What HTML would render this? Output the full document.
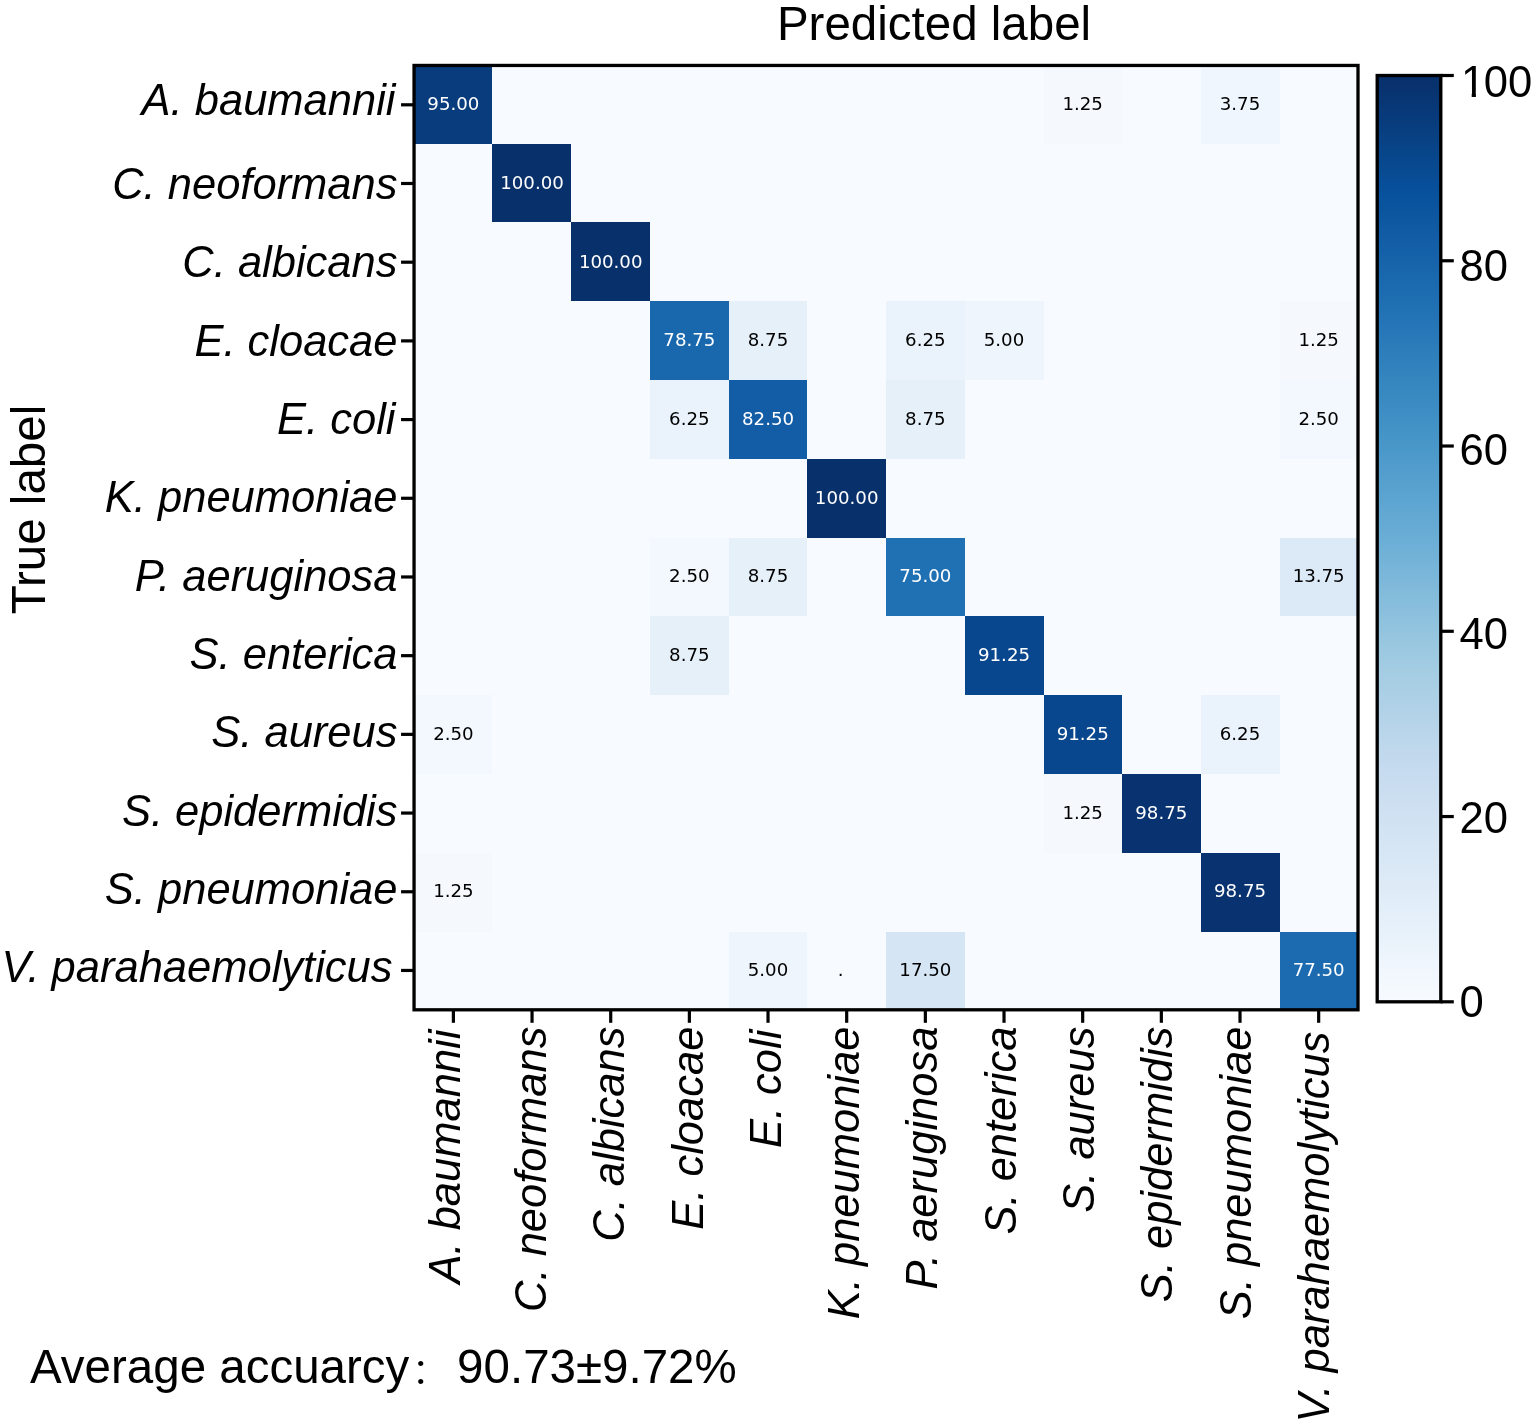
<!DOCTYPE html>
<html lang="en"><head><meta charset="utf-8"><title>Confusion matrix</title>
<style>
html,body{margin:0;padding:0;background:#fff;}
body{width:1535px;height:1425px;overflow:hidden;}
svg{display:block;}
.ar{font-family:"Liberation Sans",sans-serif;fill:#000;}
.it{font-style:italic;}
.dv{font-family:"DejaVu Sans","Liberation Sans",sans-serif;font-size:18.20px;text-anchor:middle;}
</style></head><body>
<svg width="1535" height="1425" viewBox="0 0 1535 1425">
<rect x="0" y="0" width="1535" height="1425" fill="#ffffff"/>
<defs><linearGradient id="cb" x1="0" y1="1" x2="0" y2="0">
<stop offset="0.0000" stop-color="#f7fbff"/>
<stop offset="0.0156" stop-color="#f4f9fe"/>
<stop offset="0.0312" stop-color="#f1f7fd"/>
<stop offset="0.0469" stop-color="#eef5fc"/>
<stop offset="0.0625" stop-color="#eaf3fb"/>
<stop offset="0.0781" stop-color="#e7f1fa"/>
<stop offset="0.0938" stop-color="#e4eff9"/>
<stop offset="0.1094" stop-color="#e1edf8"/>
<stop offset="0.1250" stop-color="#deebf7"/>
<stop offset="0.1406" stop-color="#dbe9f6"/>
<stop offset="0.1562" stop-color="#d8e7f5"/>
<stop offset="0.1719" stop-color="#d5e5f4"/>
<stop offset="0.1875" stop-color="#d2e3f3"/>
<stop offset="0.2031" stop-color="#cfe1f2"/>
<stop offset="0.2188" stop-color="#ccdff1"/>
<stop offset="0.2344" stop-color="#c9ddf0"/>
<stop offset="0.2500" stop-color="#c6dbef"/>
<stop offset="0.2656" stop-color="#c1d9ed"/>
<stop offset="0.2812" stop-color="#bcd7eb"/>
<stop offset="0.2969" stop-color="#b7d4ea"/>
<stop offset="0.3125" stop-color="#b2d2e8"/>
<stop offset="0.3281" stop-color="#add0e6"/>
<stop offset="0.3438" stop-color="#a8cee4"/>
<stop offset="0.3594" stop-color="#a3cce3"/>
<stop offset="0.3750" stop-color="#9dcae1"/>
<stop offset="0.3906" stop-color="#97c6df"/>
<stop offset="0.4062" stop-color="#91c3de"/>
<stop offset="0.4219" stop-color="#8abfdd"/>
<stop offset="0.4375" stop-color="#84bcdb"/>
<stop offset="0.4531" stop-color="#7db8da"/>
<stop offset="0.4688" stop-color="#77b5d9"/>
<stop offset="0.4844" stop-color="#71b1d7"/>
<stop offset="0.5000" stop-color="#6aaed6"/>
<stop offset="0.5156" stop-color="#65aad4"/>
<stop offset="0.5312" stop-color="#60a7d2"/>
<stop offset="0.5469" stop-color="#5ba3d0"/>
<stop offset="0.5625" stop-color="#56a0ce"/>
<stop offset="0.5781" stop-color="#519ccc"/>
<stop offset="0.5938" stop-color="#4b98ca"/>
<stop offset="0.6094" stop-color="#4695c8"/>
<stop offset="0.6250" stop-color="#4191c6"/>
<stop offset="0.6406" stop-color="#3d8dc4"/>
<stop offset="0.6562" stop-color="#3989c1"/>
<stop offset="0.6719" stop-color="#3585bf"/>
<stop offset="0.6875" stop-color="#3181bd"/>
<stop offset="0.7031" stop-color="#2d7dbb"/>
<stop offset="0.7188" stop-color="#2979b9"/>
<stop offset="0.7344" stop-color="#2474b7"/>
<stop offset="0.7500" stop-color="#2070b4"/>
<stop offset="0.7656" stop-color="#1d6cb1"/>
<stop offset="0.7812" stop-color="#1a68ae"/>
<stop offset="0.7969" stop-color="#1764ab"/>
<stop offset="0.8125" stop-color="#1460a8"/>
<stop offset="0.8281" stop-color="#115ca5"/>
<stop offset="0.8438" stop-color="#0e58a2"/>
<stop offset="0.8594" stop-color="#0a549e"/>
<stop offset="0.8750" stop-color="#08509b"/>
<stop offset="0.8906" stop-color="#084c95"/>
<stop offset="0.9062" stop-color="#08488e"/>
<stop offset="0.9219" stop-color="#084488"/>
<stop offset="0.9375" stop-color="#084082"/>
<stop offset="0.9531" stop-color="#083b7c"/>
<stop offset="0.9688" stop-color="#083776"/>
<stop offset="0.9844" stop-color="#083370"/>
<stop offset="1.0000" stop-color="#08306b"/>
</linearGradient></defs>
<rect x="413.50" y="64.85" width="945.20" height="945.65" fill="#f7fbff"/>
<g shape-rendering="crispEdges">
<rect x="413.50" y="64.85" width="78.77" height="78.80" fill="#083c7d"/>
<rect x="1043.63" y="64.85" width="78.77" height="78.80" fill="#f5f9fe"/>
<rect x="1201.17" y="64.85" width="78.77" height="78.80" fill="#f0f6fd"/>
<rect x="492.27" y="143.65" width="78.77" height="78.80" fill="#08306b"/>
<rect x="571.03" y="222.46" width="78.77" height="78.80" fill="#08306b"/>
<rect x="649.80" y="301.26" width="78.77" height="78.80" fill="#1967ad"/>
<rect x="728.57" y="301.26" width="78.77" height="78.80" fill="#e6f0f9"/>
<rect x="886.10" y="301.26" width="78.77" height="78.80" fill="#eaf3fb"/>
<rect x="964.87" y="301.26" width="78.77" height="78.80" fill="#eef5fc"/>
<rect x="1279.93" y="301.26" width="78.77" height="78.80" fill="#f5f9fe"/>
<rect x="649.80" y="380.07" width="78.77" height="78.80" fill="#eaf3fb"/>
<rect x="728.57" y="380.07" width="78.77" height="78.80" fill="#125da6"/>
<rect x="886.10" y="380.07" width="78.77" height="78.80" fill="#e6f0f9"/>
<rect x="1279.93" y="380.07" width="78.77" height="78.80" fill="#f2f8fd"/>
<rect x="807.33" y="458.87" width="78.77" height="78.80" fill="#08306b"/>
<rect x="649.80" y="537.67" width="78.77" height="78.80" fill="#f2f8fd"/>
<rect x="728.57" y="537.67" width="78.77" height="78.80" fill="#e6f0f9"/>
<rect x="886.10" y="537.67" width="78.77" height="78.80" fill="#2070b4"/>
<rect x="1279.93" y="537.67" width="78.77" height="78.80" fill="#dce9f6"/>
<rect x="649.80" y="616.48" width="78.77" height="78.80" fill="#e6f0f9"/>
<rect x="964.87" y="616.48" width="78.77" height="78.80" fill="#08478d"/>
<rect x="413.50" y="695.28" width="78.77" height="78.80" fill="#f2f8fd"/>
<rect x="1043.63" y="695.28" width="78.77" height="78.80" fill="#08478d"/>
<rect x="1201.17" y="695.28" width="78.77" height="78.80" fill="#eaf3fb"/>
<rect x="1043.63" y="774.09" width="78.77" height="78.80" fill="#f5f9fe"/>
<rect x="1122.40" y="774.09" width="78.77" height="78.80" fill="#083370"/>
<rect x="413.50" y="852.89" width="78.77" height="78.80" fill="#f5f9fe"/>
<rect x="1201.17" y="852.89" width="78.77" height="78.80" fill="#083370"/>
<rect x="728.57" y="931.70" width="78.77" height="78.80" fill="#eef5fc"/>
<rect x="886.10" y="931.70" width="78.77" height="78.80" fill="#d5e5f4"/>
<rect x="1279.93" y="931.70" width="78.77" height="78.80" fill="#1c6ab0"/>
</g>
<g class="dv">
<text x="453.38" y="110.24" fill="#ffffff">95.00</text>
<text x="1082.68" y="110.24" fill="#000000">1.25</text>
<text x="1240.01" y="110.24" fill="#000000">3.75</text>
<text x="532.04" y="188.94" fill="#ffffff">100.00</text>
<text x="610.71" y="267.63" fill="#ffffff">100.00</text>
<text x="689.37" y="346.33" fill="#ffffff">78.75</text>
<text x="768.03" y="346.33" fill="#000000">8.75</text>
<text x="925.36" y="346.33" fill="#000000">6.25</text>
<text x="1004.02" y="346.33" fill="#000000">5.00</text>
<text x="1318.67" y="346.33" fill="#000000">1.25</text>
<text x="689.37" y="425.02" fill="#000000">6.25</text>
<text x="768.03" y="425.02" fill="#ffffff">82.50</text>
<text x="925.36" y="425.02" fill="#000000">8.75</text>
<text x="1318.67" y="425.02" fill="#000000">2.50</text>
<text x="846.69" y="503.72" fill="#ffffff">100.00</text>
<text x="689.37" y="582.42" fill="#000000">2.50</text>
<text x="768.03" y="582.42" fill="#000000">8.75</text>
<text x="925.36" y="582.42" fill="#ffffff">75.00</text>
<text x="1318.67" y="582.42" fill="#000000">13.75</text>
<text x="689.37" y="661.11" fill="#000000">8.75</text>
<text x="1004.02" y="661.11" fill="#ffffff">91.25</text>
<text x="453.38" y="739.81" fill="#000000">2.50</text>
<text x="1082.68" y="739.81" fill="#ffffff">91.25</text>
<text x="1240.01" y="739.81" fill="#000000">6.25</text>
<text x="1082.68" y="818.50" fill="#000000">1.25</text>
<text x="1161.34" y="818.50" fill="#ffffff">98.75</text>
<text x="453.38" y="897.20" fill="#000000">1.25</text>
<text x="1240.01" y="897.20" fill="#ffffff">98.75</text>
<text x="768.03" y="975.90" fill="#000000">5.00</text>
<text x="925.36" y="975.90" fill="#000000">17.50</text>
<text x="1318.67" y="975.90" fill="#ffffff">77.50</text>
<text x="840.69" y="975.90" fill="#000">.</text>
</g>
<g stroke="#000" stroke-width="3.20" fill="none">
<line x1="401.05" y1="104.80" x2="414.05" y2="104.80"/>
<line x1="453.38" y1="1009.80" x2="453.38" y2="1022.80"/>
<line x1="401.05" y1="183.49" x2="414.05" y2="183.49"/>
<line x1="532.04" y1="1009.80" x2="532.04" y2="1022.80"/>
<line x1="401.05" y1="262.19" x2="414.05" y2="262.19"/>
<line x1="610.71" y1="1009.80" x2="610.71" y2="1022.80"/>
<line x1="401.05" y1="340.89" x2="414.05" y2="340.89"/>
<line x1="689.37" y1="1009.80" x2="689.37" y2="1022.80"/>
<line x1="401.05" y1="419.58" x2="414.05" y2="419.58"/>
<line x1="768.03" y1="1009.80" x2="768.03" y2="1022.80"/>
<line x1="401.05" y1="498.28" x2="414.05" y2="498.28"/>
<line x1="846.69" y1="1009.80" x2="846.69" y2="1022.80"/>
<line x1="401.05" y1="576.97" x2="414.05" y2="576.97"/>
<line x1="925.36" y1="1009.80" x2="925.36" y2="1022.80"/>
<line x1="401.05" y1="655.67" x2="414.05" y2="655.67"/>
<line x1="1004.02" y1="1009.80" x2="1004.02" y2="1022.80"/>
<line x1="401.05" y1="734.36" x2="414.05" y2="734.36"/>
<line x1="1082.68" y1="1009.80" x2="1082.68" y2="1022.80"/>
<line x1="401.05" y1="813.06" x2="414.05" y2="813.06"/>
<line x1="1161.34" y1="1009.80" x2="1161.34" y2="1022.80"/>
<line x1="401.05" y1="891.76" x2="414.05" y2="891.76"/>
<line x1="1240.01" y1="1009.80" x2="1240.01" y2="1022.80"/>
<line x1="401.05" y1="970.45" x2="414.05" y2="970.45"/>
<line x1="1318.67" y1="1009.80" x2="1318.67" y2="1022.80"/>
</g>
<rect x="414.05" y="65.45" width="943.95" height="944.35" fill="none" stroke="#000" stroke-width="3.30"/>
<rect x="1377.20" y="75.50" width="63.60" height="926.30" fill="url(#cb)" stroke="#000" stroke-width="3.30"/>
<g stroke="#000" stroke-width="3.20">
<line x1="1440.80" y1="1001.80" x2="1453.80" y2="1001.80"/>
<line x1="1440.80" y1="816.54" x2="1453.80" y2="816.54"/>
<line x1="1440.80" y1="631.28" x2="1453.80" y2="631.28"/>
<line x1="1440.80" y1="446.02" x2="1453.80" y2="446.02"/>
<line x1="1440.80" y1="260.76" x2="1453.80" y2="260.76"/>
<line x1="1440.80" y1="75.50" x2="1453.80" y2="75.50"/>
</g>
<g class="ar" font-size="43.60">
<text x="1459.60" y="97.10"><tspan dx="1.3">1</tspan><tspan dx="-1.3">00</tspan></text>
<text x="1459.60" y="281.10">80</text>
<text x="1459.60" y="465.10">60</text>
<text x="1459.60" y="649.10">40</text>
<text x="1459.60" y="833.10">20</text>
<text x="1459.60" y="1017.10">0</text>
</g>
<g fill="#fff"><rect x="1461" y="92.2" width="10.7" height="5.6"/><rect x="1475.9" y="92.2" width="8.3" height="5.6"/></g>
<g class="ar it" font-size="43.50" text-anchor="end">
<text x="395.50" y="114.70">A. baumannii</text>
<text x="397.50" y="199.15">C. neoformans</text>
<text x="397.50" y="277.48">C. albicans</text>
<text x="397.50" y="355.81">E. cloacae</text>
<text x="395.50" y="434.14">E. coli</text>
<text x="397.50" y="512.47">K. pneumoniae</text>
<text x="397.50" y="590.80">P. aeruginosa</text>
<text x="397.50" y="669.13">S. enterica</text>
<text x="397.50" y="747.46">S. aureus</text>
<text x="397.50" y="825.79">S. epidermidis</text>
<text x="397.50" y="904.12">S. pneumoniae</text>
<text x="392.50" y="982.45">V. parahaemolyticus</text>
</g>
<g class="ar it" font-size="43.50" text-anchor="end">
<text transform="translate(460.00 1029.60) rotate(-90)">A. baumannii</text>
<text transform="translate(546.00 1026.60) rotate(-90)">C. neoformans</text>
<text transform="translate(624.29 1026.60) rotate(-90)">C. albicans</text>
<text transform="translate(702.58 1026.60) rotate(-90)">E. cloacae</text>
<text transform="translate(780.87 1029.60) rotate(-90)">E. coli</text>
<text transform="translate(859.16 1026.60) rotate(-90)">K. pneumoniae</text>
<text transform="translate(937.45 1026.60) rotate(-90)">P. aeruginosa</text>
<text transform="translate(1015.74 1026.60) rotate(-90)">S. enterica</text>
<text transform="translate(1094.03 1026.60) rotate(-90)">S. aureus</text>
<text transform="translate(1172.32 1026.60) rotate(-90)">S. epidermidis</text>
<text transform="translate(1250.61 1026.60) rotate(-90)">S. pneumoniae</text>
<text transform="translate(1328.90 1031.60) rotate(-90)">V. parahaemolyticus</text>
</g>
<text class="ar" font-size="47.50" text-anchor="middle" x="934.00" y="39.90">Predicted label</text>
<text class="ar" font-size="47.50" text-anchor="middle" transform="translate(45.40 509.50) rotate(-90)">True label</text>
<text class="ar" style="font-family:'Liberation Sans','Noto Serif CJK SC',sans-serif" font-size="47.50" y="1383.40"><tspan x="30.00">Average accuarcy</tspan><tspan x="411.10" dy="1.1" font-size="42">：</tspan><tspan x="457.10" dy="-1.1">90.73±9.72%</tspan></text>
</svg></body></html>
